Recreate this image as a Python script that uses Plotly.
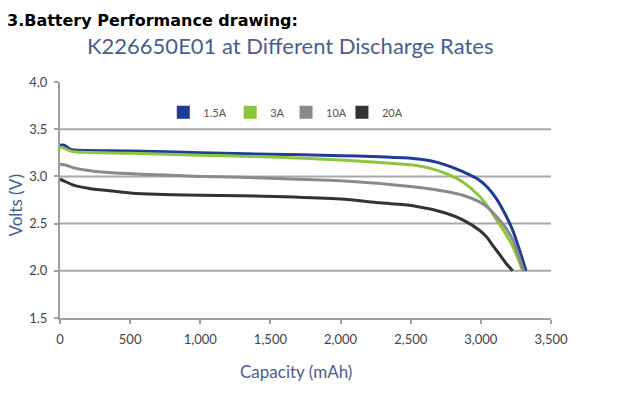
import plotly.graph_objects as go

# ---- data ----
series_names = ["1.5A", "3A", "10A", "20A"]
series_colors = ["#1f3d96", "#8cc63f", "#8a8a8a", "#333333"]

cap_15a = [0, 30, 70, 100, 500, 1000, 1500, 2000, 2279, 2516, 2640, 2753, 2871, 2990, 3050, 3108, 3170, 3227, 3280, 3322]
volt_15a = [3.33, 3.33, 3.29, 3.28, 3.27, 3.25, 3.235, 3.22, 3.207, 3.19, 3.165, 3.12, 3.05, 2.96, 2.88, 2.77, 2.61, 2.43, 2.2, 2.0]

cap_3a = [0, 30, 70, 100, 500, 1000, 1500, 2000, 2279, 2516, 2640, 2753, 2871, 2990, 3050, 3108, 3170, 3227, 3298]
volt_3a = [3.31, 3.30, 3.27, 3.26, 3.245, 3.225, 3.205, 3.175, 3.148, 3.12, 3.085, 3.03, 2.94, 2.79, 2.68, 2.55, 2.41, 2.26, 2.0]

cap_10a = [0, 40, 100, 217, 400, 572, 1000, 1283, 1600, 2000, 2279, 2516, 2753, 2871, 2990, 3050, 3108, 3170, 3227, 3305]
volt_10a = [3.13, 3.12, 3.09, 3.06, 3.035, 3.024, 3.0, 2.99, 2.975, 2.955, 2.926, 2.89, 2.84, 2.80, 2.73, 2.67, 2.58, 2.47, 2.33, 2.0]

cap_20a = [0, 30, 96, 200, 335, 500, 691, 1000, 1283, 1600, 2000, 2279, 2516, 2753, 2871, 2990, 3040, 3084, 3135, 3179, 3227]
volt_20a = [2.97, 2.95, 2.908, 2.875, 2.85, 2.825, 2.81, 2.80, 2.795, 2.785, 2.76, 2.72, 2.69, 2.61, 2.54, 2.43, 2.36, 2.27, 2.17, 2.08, 2.0]

x_ticks = [0, 500, 1000, 1500, 2000, 2500, 3000, 3500]
x_tick_labels = ["0", "500", "1,000", "1,500", "2,000", "2,500", "3,000", "3,500"]
y_ticks = [1.5, 2.0, 2.5, 3.0, 3.5, 4.0]
y_tick_labels = ["1.5", "2.0", "2.5", "3.0", "3.5", "4.0"]
y_grid = [2.0, 2.5, 3.0, 3.5]

caps = [cap_15a, cap_3a, cap_10a, cap_20a]
volts = [volt_15a, volt_3a, volt_10a, volt_20a]

# plot-area geometry (px)
PL, PR, PT, PB = 59.5, 551.5, 81.7, 318.3
PW, PH = PR - PL, PB - PT


def px_x(p):
    return (p - PL) / PW


def px_y(p):
    return (PB - p) / PH


fig = go.Figure()

for name, color, xs, ys in zip(series_names, series_colors, caps, volts):
    fig.add_trace(go.Scatter(
        x=xs, y=ys, mode="lines", name=name, showlegend=False,
        line=dict(color=color, width=3, shape="spline", smoothing=0.8),
    ))

# square legend swatches, one legend each so they can be placed individually
legend_ids = ["legend", "legend2", "legend3", "legend4"]
legend_left_px = [163, 230, 286, 342]
for name, color, lid in zip(series_names, series_colors, legend_ids):
    fig.add_trace(go.Scatter(
        x=[None], y=[None], mode="markers", name=name, legend=lid,
        marker=dict(symbol="square", size=13, color=color),
    ))

for g in y_grid:
    fig.add_shape(type="line", xref="paper", x0=0, x1=1, yref="y", y0=g, y1=g,
                  line=dict(color="#a8a8a8", width=2), layer="below")

font_fam = "Lato, 'Open Sans', sans-serif"
title_color = "#4b5d8e"

legend_common = dict(
    orientation="h", xanchor="left", yanchor="middle",
    font=dict(family=font_fam, size=11, color="#555555"),
    bgcolor="rgba(0,0,0,0)", itemwidth=30,
)
layout_legends = {}
for lid, lx in zip(legend_ids, legend_left_px):
    layout_legends[lid] = dict(legend_common, x=px_x(lx), y=px_y(112))

fig.update_layout(
    width=620, height=401,
    margin=dict(l=PL, r=620 - PR, t=PT, b=401 - PB),
    paper_bgcolor="white", plot_bgcolor="white",
    showlegend=True,
    **layout_legends,
    xaxis=dict(
        range=[0, 3500], tickvals=x_ticks, ticktext=x_tick_labels,
        showgrid=False, zeroline=False, showline=True, linecolor="#a0a0a0", linewidth=2,
        ticks="outside", ticklen=4, tickcolor="#a0a0a0", tickwidth=2,
        tickfont=dict(family=font_fam, size=13, color="#444444"), ticklabelstandoff=4,
    ),
    yaxis=dict(
        range=[1.5, 4.0], tickvals=y_ticks, ticktext=y_tick_labels,
        showgrid=False, zeroline=False, showline=True, linecolor="#a0a0a0", linewidth=2,
        ticks="outside", ticklen=4, tickcolor="#a0a0a0", tickwidth=2,
        tickfont=dict(family=font_fam, size=13, color="#444444"),
        ticklabelstandoff=4,
    ),
    annotations=[
        dict(text="<b>3.Battery Performance drawing:</b>", xref="paper", yref="paper",
             x=px_x(4), y=px_y(20), xanchor="left", yanchor="middle",
             showarrow=False, font=dict(family="DejaVu Sans", size=16, color="#000000")),
        dict(text="K226650E01 at Different Discharge Rates", xref="paper", yref="paper",
             x=px_x(290), y=px_y(45), xanchor="center", yanchor="middle",
             showarrow=False, font=dict(family=font_fam, size=22, color=title_color)),
        dict(text="Volts (V)", xref="paper", yref="paper", textangle=-90,
             x=px_x(15), y=px_y(205), xanchor="center", yanchor="middle",
             showarrow=False, font=dict(family=font_fam, size=17, color=title_color)),
        dict(text="Capacity (mAh)", xref="paper", yref="paper",
             x=px_x(296), y=px_y(372), xanchor="center", yanchor="middle",
             showarrow=False, font=dict(family=font_fam, size=17, color=title_color)),
    ],
)

fig.write_html("out.html", config={"displayModeBar": False},
               post_script="document.body.style.margin='0';")
